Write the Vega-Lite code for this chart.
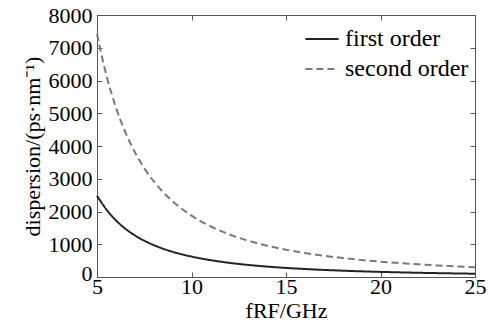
{
  "$schema": "https://vega.github.io/schema/vega-lite/v6.json",
  "width": 378,
  "height": 262,
  "autosize": {"type": "none"},
  "padding": {"left": 97, "top": 15, "right": 16, "bottom": 54},
  "background": "white",
  "config": {
    "font": "Liberation Serif",
    "view": {"stroke": "#555", "strokeWidth": 1},
    "axis": {
      "grid": false,
      "domainColor": "#555",
      "tickColor": "#555",
      "labelFont": "Liberation Serif",
      "titleFont": "Liberation Serif",
      "labelFontSize": 22,
      "titleFontSize": 22,
      "labelColor": "black",
      "titleColor": "black",
      "titleFontWeight": "normal",
      "tickSize": -5,
      "format": "d"
    },
    "legend": {
      "labelFont": "Liberation Serif",
      "labelFontSize": 24,
      "labelColor": "black"
    }
  },
  "data": {
    "values": [
      {"f": 5, "D": 2480, "order": "first order"},
      {"f": 5.5, "D": 2060, "order": "first order"},
      {"f": 6, "D": 1730, "order": "first order"},
      {"f": 6.5, "D": 1475, "order": "first order"},
      {"f": 7, "D": 1272, "order": "first order"},
      {"f": 7.5, "D": 1108, "order": "first order"},
      {"f": 8, "D": 975, "order": "first order"},
      {"f": 8.5, "D": 863, "order": "first order"},
      {"f": 9, "D": 770, "order": "first order"},
      {"f": 9.5, "D": 691, "order": "first order"},
      {"f": 10, "D": 624, "order": "first order"},
      {"f": 11, "D": 516, "order": "first order"},
      {"f": 12, "D": 433, "order": "first order"},
      {"f": 13, "D": 369, "order": "first order"},
      {"f": 14, "D": 318, "order": "first order"},
      {"f": 15, "D": 277, "order": "first order"},
      {"f": 16, "D": 244, "order": "first order"},
      {"f": 17, "D": 216, "order": "first order"},
      {"f": 18, "D": 193, "order": "first order"},
      {"f": 19, "D": 173, "order": "first order"},
      {"f": 20, "D": 156, "order": "first order"},
      {"f": 21, "D": 142, "order": "first order"},
      {"f": 22, "D": 129, "order": "first order"},
      {"f": 23, "D": 118, "order": "first order"},
      {"f": 24, "D": 109, "order": "first order"},
      {"f": 25, "D": 100, "order": "first order"},
      {"f": 5, "D": 7420, "order": "second order"},
      {"f": 5.5, "D": 6150, "order": "second order"},
      {"f": 6, "D": 5180, "order": "second order"},
      {"f": 6.5, "D": 4420, "order": "second order"},
      {"f": 7, "D": 3815, "order": "second order"},
      {"f": 7.5, "D": 3325, "order": "second order"},
      {"f": 8, "D": 2925, "order": "second order"},
      {"f": 8.5, "D": 2590, "order": "second order"},
      {"f": 9, "D": 2312, "order": "second order"},
      {"f": 9.5, "D": 2076, "order": "second order"},
      {"f": 10, "D": 1873, "order": "second order"},
      {"f": 11, "D": 1549, "order": "second order"},
      {"f": 12, "D": 1301, "order": "second order"},
      {"f": 13, "D": 1109, "order": "second order"},
      {"f": 14, "D": 956, "order": "second order"},
      {"f": 15, "D": 833, "order": "second order"},
      {"f": 16, "D": 732, "order": "second order"},
      {"f": 17, "D": 649, "order": "second order"},
      {"f": 18, "D": 579, "order": "second order"},
      {"f": 19, "D": 519, "order": "second order"},
      {"f": 20, "D": 469, "order": "second order"},
      {"f": 21, "D": 425, "order": "second order"},
      {"f": 22, "D": 387, "order": "second order"},
      {"f": 23, "D": 354, "order": "second order"},
      {"f": 24, "D": 326, "order": "second order"},
      {"f": 25, "D": 300, "order": "second order"}
    ]
  },
  "layer": [
    {
      "mark": {"type": "line", "interpolate": "monotone", "strokeWidth": 2},
      "encoding": {
        "x": {
          "field": "f", "type": "quantitative",
          "scale": {"domain": [5, 25], "nice": false, "zero": false},
          "axis": {"values": [5, 10, 15, 20, 25], "title": "fRF/GHz", "labelPadding": 4, "titlePadding": 3, "labelFlush": false}
        },
        "y": {
          "field": "D", "type": "quantitative",
          "scale": {"domain": [0, 8000], "nice": false},
          "axis": {
            "values": [0, 1000, 2000, 3000, 4000, 5000, 6000, 7000, 8000],
            "title": "dispersion/(ps·nm⁻¹)",
            "labelPadding": 10,
            "titlePadding": 4,
            "labelOffset": {"condition": {"test": "datum.value == 0", "value": -4}, "value": 0}
          }
        },
        "color": {
          "field": "order", "type": "nominal",
          "scale": {"domain": ["first order", "second order"], "range": ["#222222", "#7a7a7a"]},
          "legend": {"title": null, "orient": "top-right", "offset": 6, "symbolType": "stroke", "symbolSize": 1100, "symbolStrokeWidth": 2, "rowPadding": -6, "labelOffset": 5}
        },
        "strokeDash": {
          "field": "order", "type": "nominal",
          "scale": {"domain": ["first order", "second order"], "range": [[1, 0], [7, 4]]},
          "legend": {"title": null, "orient": "top-right", "offset": 6, "symbolType": "stroke", "symbolSize": 1100, "symbolStrokeWidth": 2, "rowPadding": -6, "labelOffset": 5}
        }
      }
    },
    {
      "mark": {"type": "point", "opacity": 0},
      "encoding": {
        "x": {"field": "f", "type": "quantitative", "axis": {"orient": "top", "values": [5, 10, 15, 20, 25], "labels": false, "title": null}},
        "y": {"field": "D", "type": "quantitative", "axis": {"orient": "right", "values": [0, 1000, 2000, 3000, 4000, 5000, 6000, 7000, 8000], "labels": false, "title": null}}
      }
    }
  ],
  "resolve": {"axis": {"x": "independent", "y": "independent"}}
}
